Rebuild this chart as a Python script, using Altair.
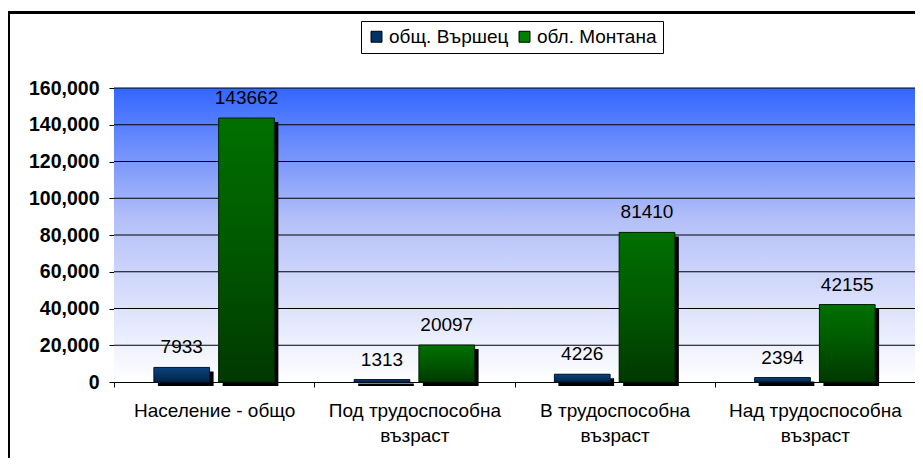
import altair as alt
import pandas as pd

categories = ["Население - общо", "Под трудоспособна възраст",
              "В трудоспособна възраст", "Над трудоспособна възраст"]
series = ["общ. Вършец", "обл. Монтана"]
varshets = [7933, 1313, 4226, 2394]
montana = [143662, 20097, 81410, 42155]
y_ticks = [0, 20000, 40000, 60000, 80000, 100000, 120000, 140000, 160000]
legend_colors = ["#003366", "#008000"]

rows = []
for c, v1, v2 in zip(categories, varshets, montana):
    rows.append({"cat": c, "series": series[0], "value": v1})
    rows.append({"cat": c, "series": series[1], "value": v2})
df = pd.DataFrame(rows)

FONT = "Liberation Sans"
W, H = 801, 294
BAND = W / 4

x_enc = alt.X(
    "cat:N", sort=categories, title=None,
    scale=alt.Scale(type="band", domain=categories, paddingInner=0, paddingOuter=0),
    axis=alt.Axis(
        tickBand="extent", ticks=True, tickSize=5, tickColor="black",
        domainColor="black", labelAngle=0, labelFontSize=19, labelFont=FONT,
        labelColor="black", labelPadding=14, labelLineHeight=25,
        labelExpr="indexof(datum.label, ' възраст') > 0 ? [replace(datum.label, ' възраст', ''), 'възраст'] : datum.label",
        grid=False,
    ),
)


def xo(shift):
    return alt.XOffset("series:N", sort=series,
                       scale=alt.Scale(type="band", domain=series, range=[shift, BAND + shift],
                                       paddingInner=0.14, paddingOuter=0.616))


y_axis = alt.Axis(values=y_ticks, format=",d", labelFontSize=19.5, labelFontWeight="bold",
                  labelFont=FONT, labelColor="black", tickSize=5, tickColor="black",
                  domainColor="black", labelPadding=10, grid=False)
y_scale = alt.Scale(domain=[0, 160000], nice=False)
y_enc = alt.Y("value:Q", title=None, scale=y_scale, axis=y_axis)

bg = alt.Chart(pd.DataFrame({"k": [0]})).mark_rect(
    fill=alt.Gradient(gradient="linear", x1=0, y1=0, x2=0, y2=1,
                      stops=[alt.GradientStop(color="#3366FF", offset=0),
                             alt.GradientStop(color="#B4C0F8", offset=0.45),
                             alt.GradientStop(color="#FFFFFF", offset=1)]),
).encode(x=alt.value(0), x2=alt.value("width"), y=alt.value(0), y2=alt.value("height"))

grid = alt.Chart(pd.DataFrame({"value": y_ticks[1:]})).mark_rule(color="black", strokeWidth=1).encode(
    y=y_enc, x=alt.value(0), x2=alt.value("width"))

border = alt.Chart(pd.DataFrame({"k": [0]})).mark_rect(
    fill=None, fillOpacity=0, stroke="black", strokeWidth=3, clip=False
).encode(x=alt.value(-105.5), x2=alt.value(1100), y=alt.value(-75.5), y2=alt.value(1000))

base = alt.Chart(df)

shadow = base.mark_bar(color="black", yOffset=4).encode(
    x=x_enc, xOffset=xo(4), y=y_enc)

plain = base.mark_bar().encode(
    x=x_enc, xOffset=xo(0), y=y_enc,
    color=alt.Color("series:N", sort=series,
                    scale=alt.Scale(domain=series, range=legend_colors),
                    legend=alt.Legend(title=None, orient="none", legendX=247, legendY=-67,
                                      direction="horizontal", symbolType="square",
                                      symbolSize=120, symbolStrokeColor="black",
                                      symbolStrokeWidth=1, labelFontSize=19, labelFont=FONT,
                                      labelColor="black", strokeColor="black", fillColor="white",
                                      padding=6, columnPadding=6, labelOffset=3)),
)

grad_blue = alt.Gradient(gradient="linear", x1=0, y1=0, x2=0, y2=1,
                         stops=[alt.GradientStop(color="#0B4380", offset=0),
                                alt.GradientStop(color="#002347", offset=1)])
grad_green = alt.Gradient(gradient="linear", x1=0, y1=0, x2=0, y2=1,
                          stops=[alt.GradientStop(color="#007000", offset=0),
                                 alt.GradientStop(color="#005800", offset=0.5),
                                 alt.GradientStop(color="#003800", offset=1)])

bars_v = base.transform_filter(alt.datum.series == series[0]).mark_bar(
    fill=grad_blue, stroke="#001a33", strokeWidth=1).encode(x=x_enc, xOffset=xo(0), y=y_enc)
bars_m = base.transform_filter(alt.datum.series == series[1]).mark_bar(
    fill=grad_green, stroke="#002200", strokeWidth=1).encode(x=x_enc, xOffset=xo(0), y=y_enc)

labels = base.mark_text(dy=-14, baseline="alphabetic", fontSize=19, font=FONT,
                        color="black").encode(
    x=x_enc, xOffset=xo(0), y=y_enc, text=alt.Text("value:Q", format="d"))

chart = alt.layer(bg, grid, shadow, plain, bars_v, bars_m, labels, border).resolve_scale(
    xOffset="independent"
).properties(
    width=W, height=H,
    autosize=alt.AutoSizeParams(type="none"),
    padding={"left": 106, "top": 80, "right": 0, "bottom": 76},
).configure_view(stroke="#404040", strokeWidth=1).configure(background="white")

chart.save("out.html", embed_options={"renderer": "svg", "actions": False})
